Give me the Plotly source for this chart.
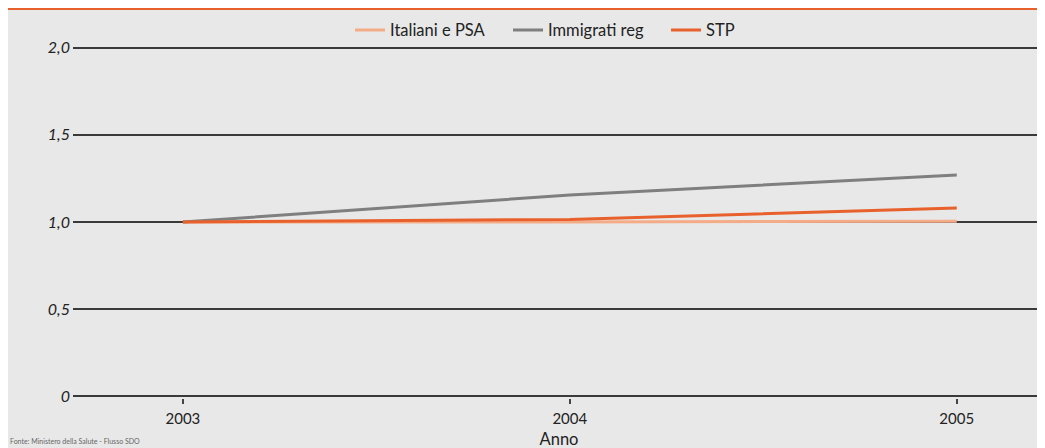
import plotly.graph_objects as go

years = [2003, 2004, 2005]
italiani = [1.0, 1.0, 1.005]
immigrati = [1.0, 1.155, 1.27]
stp = [1.0, 1.015, 1.08]
series_names = ["Italiani e PSA", "Immigrati reg", "STP"]
series_colors = ["#f4ab88", "#7f7f7f", "#e8612c"]
ytick_vals = [0, 0.5, 1.0, 1.5, 2.0]
ytick_text = ["0", "0,5", "1,0", "1,5", "2,0"]
xtick_text = ["2003", "2004", "2005"]

BG = "#e8e8e8"
FONT = "Lato, 'Open Sans', sans-serif"

fig = go.Figure()
for name, vals, col in zip(series_names, [italiani, immigrati, stp], series_colors):
    fig.add_trace(go.Scatter(x=years, y=vals, mode="lines", name=name,
                             line=dict(color=col, width=3)))

fig.update_layout(
    width=1045, height=448,
    paper_bgcolor=BG, plot_bgcolor=BG,
    margin=dict(l=65, r=8, t=38, b=58, autoexpand=False),
    font=dict(family=FONT, size=15, color="#222"),
    showlegend=True,
    legend=dict(orientation="h", x=0.285, xanchor="left", y=1.045, yanchor="middle",
                bgcolor="rgba(0,0,0,0)", font=dict(size=16.5, color="#222"),
                itemwidth=30, entrywidth=113, tracegroupgap=0),
    xaxis=dict(range=[2002.716, 2005.228], tickvals=years, ticktext=xtick_text,
               automargin=False,
               showgrid=False, zeroline=False, showline=False,
               ticks="outside", ticklen=5, tickcolor="#444", tickwidth=2,
               ticklabelstandoff=2,
               tickfont=dict(size=15, color="#222"),
               title=dict(text="Anno", font=dict(size=16.5, color="#222"), standoff=7)),
    yaxis=dict(range=[-0.01, 2.01], tickvals=ytick_vals, ticktext=ytick_text,
               automargin=False,
               showgrid=True, gridcolor="#3a3a3a", gridwidth=1.5,
               zeroline=False, showline=False, ticks="",
               ticklabelstandoff=2,
               tickfont=dict(size=16, color="#222", style="italic")),
    shapes=[dict(type="line", xref="paper", yref="paper",
                 x0=-0.067, x1=1.01, y0=1.105, y1=1.105,
                 line=dict(color="#e8612c", width=2))],
    annotations=[dict(text="Fonte: Ministero della Salute - Flusso SDO",
                      xref="paper", yref="paper", x=-0.067, y=-0.138,
                      xanchor="left", yanchor="bottom", showarrow=False,
                      font=dict(size=7, color="#666"))],
)

fig.write_html("out.html")
